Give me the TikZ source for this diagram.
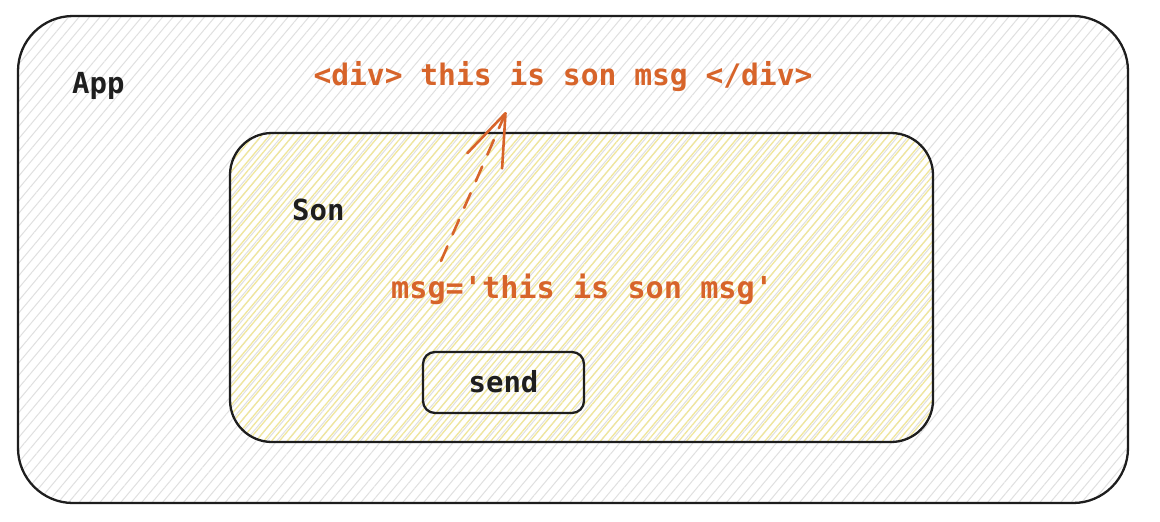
\documentclass[tikz,border=0pt]{standalone}
\usepackage{fontspec}
\setmonofont{DejaVu Sans Mono}
\usetikzlibrary{patterns.meta,arrows.meta}
\definecolor{ink}{HTML}{1E1E1E}
\definecolor{orng}{HTML}{D7642A}
\definecolor{hatchgray}{HTML}{E0E0E0}
\definecolor{hatchyel}{HTML}{F0E69C}
\tikzset{
  boxstyle/.style={draw=ink, line width=2.3pt, inner sep=0pt},
  grayhatch/.style={pattern={Lines[angle=50,distance=8pt,line width=1pt]}, pattern color=hatchgray},
  yelhatch/.style={pattern={Lines[angle=50,distance=6pt,line width=1.3pt]}, pattern color=hatchyel},
  blacklbl/.style={inner sep=0pt, text=ink, font=\fontsize{29}{34}\selectfont\ttfamily\bfseries},
  codelbl/.style={inner sep=0pt, text=orng, font=\fontsize{29.6}{34}\selectfont\ttfamily\bfseries},
  flowarrow/.style={draw=orng, line width=2.6pt, line cap=round, dash pattern=on 16pt off 13pt,
    -{Straight Barb[length=52pt,width=38pt,line width=2.6pt,round]}}
}
\begin{document}
\begin{tikzpicture}[x=1pt,y=-1pt]
\useasboundingbox (0,0) rectangle (1160,522);
\fill[white] (0,0) rectangle (1160,522);

% App container
\node[boxstyle, grayhatch, rounded corners=55pt, minimum width=1110pt, minimum height=487pt] (app) at (573,259.5) {};
% Son container
\node[boxstyle, yelhatch, rounded corners=42pt, minimum width=703pt, minimum height=309pt] (son) at (581.5,287.5) {};
% send button
\node[boxstyle, rounded corners=12pt, minimum width=161pt, minimum height=61pt] (sendbtn) at (503.5,382.5) {};

\node[blacklbl, anchor=base west] (applbl) at (72,93) {App};
\node[blacklbl, anchor=base west] (sonlbl) at (292,220) {Son};
\node[blacklbl, anchor=base] (sendlbl) at (503.5,392) {send};

\node[codelbl, anchor=base] (divlbl) at (563,85) {<div> this is son msg </div>};
\node[codelbl, font=\fontsize{30.2}{36}\selectfont\ttfamily\bfseries, anchor=base west] (msglbl) at (391,298) {msg='this is son msg'};

\coordinate (tailpt) at (441,261);
\coordinate (tippt) at (506,112);
\draw[flowarrow] (tailpt) -- (tippt);
\end{tikzpicture}
\end{document}
